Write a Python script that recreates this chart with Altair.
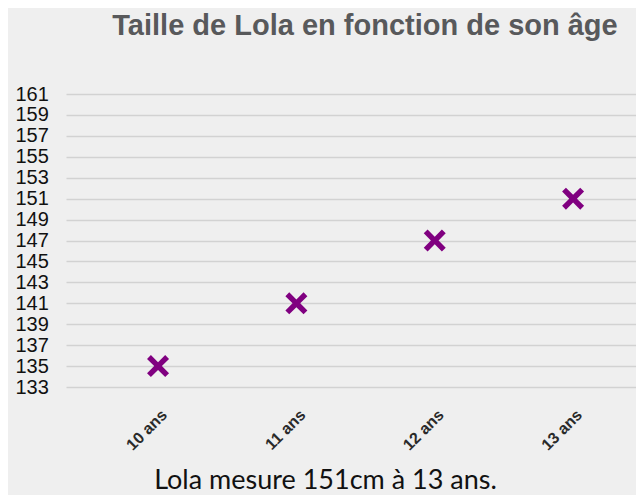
import altair as alt
import pandas as pd

ages = ["10 ans", "11 ans", "12 ans", "13 ans"]
tailles = [135, 141, 147, 151]
y_ticks = list(range(133, 162, 2))

title_text = "Taille de Lola en fonction de son âge"
caption = "Lola mesure 151cm à 13 ans."

df = pd.DataFrame({"age": ages, "taille": tailles})

x_shape = ("M-0.65,-1L0,-0.35L0.65,-1L1,-0.65L0.35,0L1,0.65L0.65,1L0,0.35"
           "L-0.65,1L-1,0.65L-0.35,0L-1,-0.65Z")

chart = alt.Chart(df).mark_point(
    shape=x_shape, filled=True, size=484, color="#800080", opacity=1
).encode(
    x=alt.X("age:N", sort=ages,
            scale=alt.Scale(type="point", padding=0.56, align=0.594),
            axis=alt.Axis(title=caption, labelAngle=315, labelAlign="right",
                          labelBaseline="middle", labelPadding=25,
                          labelOffset=6,
                          labelFont="Liberation Sans", labelFontSize=16,
                          labelFontWeight="bold",
                          labelColor="#2a2a2a", ticks=False, domain=False,
                          grid=False,
                          titleFont="Lato", titleFontSize=27,
                          titleFontWeight="normal", titleColor="#111111",
                          titleX=259, titleY=101, titleAlign="center",
                          titleBaseline="alphabetic")),
    y=alt.Y("taille:Q",
            scale=alt.Scale(domain=[133, 161], nice=False, zero=False),
            axis=alt.Axis(title=None, values=y_ticks, labelAlign="left",
                          labelPadding=51, labelFont="Liberation Sans",
                          labelFontSize=20, labelColor="#111111",
                          ticks=False, domain=False, grid=True,
                          gridColor="#d2d2d2", gridWidth=1.5)),
).properties(
    width=570,
    height=293,
    autosize="none",
    padding={"left": 58, "top": 86, "right": 0, "bottom": 108},
    background="#efefef",
    title=alt.TitleParams(title_text, anchor="middle", orient="top",
                          offset=20, baseline="alphabetic", dx=14,
                          font="Liberation Sans", fontSize=29,
                          fontWeight="bold", color="#58595b"),
).configure_view(stroke=None)

chart.save("out.html", embed_options={"renderer": "svg", "actions": False})
